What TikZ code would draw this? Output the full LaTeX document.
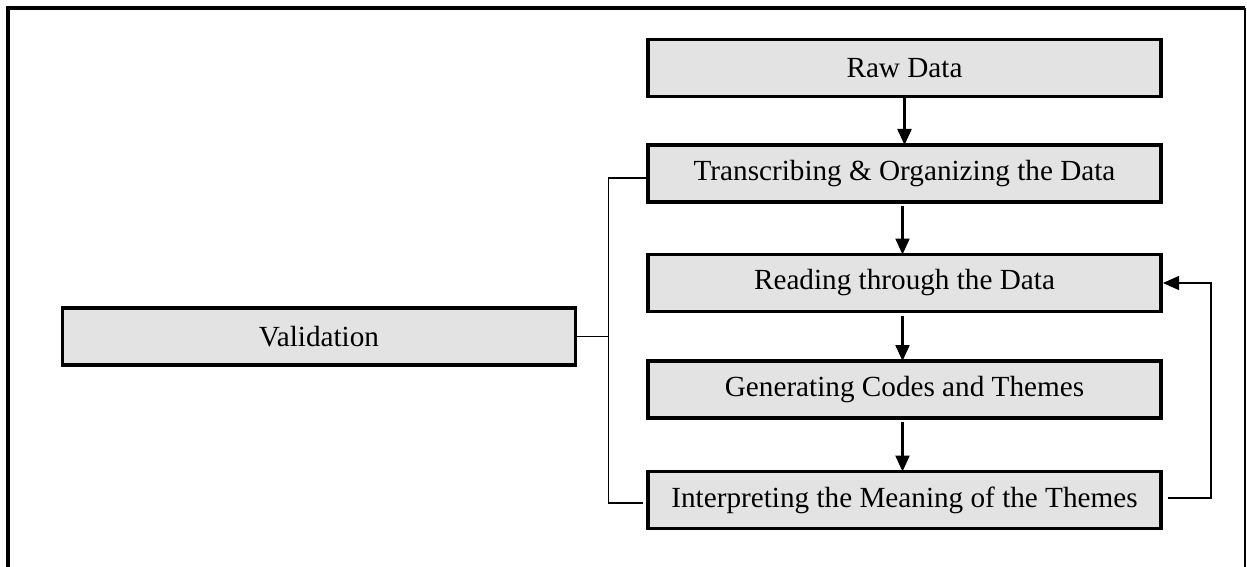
\documentclass[tikz,border=0pt]{standalone}
\usepackage{fontspec}
\setmainfont{Liberation Serif}
\usepackage{tikz}
\usetikzlibrary{positioning, arrows.meta}

\begin{document}
\begin{tikzpicture}[x=0.5pt, y=-0.5pt,
  stage/.style={draw, line width=1.6pt, fill=black!11, minimum width=256.5pt, minimum height=28.5pt, inner sep=0pt, outer sep=0pt, font=\fontsize{14.6}{17}\selectfont},
  flow/.style={line width=1.1pt, -{Triangle[length=8pt,width=7pt]}},
  thin/.style={line width=0.6pt}]
\useasboundingbox (0,0) rectangle (1247,567);

% Outer frame (bottom runs off the page)
\draw[line width=1.7pt] (8,580) -- (8,8) -- (1245,8);
\draw[line width=0.6pt] (1245,8) -- (1245,580);

% Stages
\node[stage] (raw)    at (904.5,68)    {Raw Data};
\node[stage] (trans)  at (904.5,173.5) {Transcribing \& Organizing the Data};
\node[stage] (read)   at (904.5,283)   {Reading through the Data};
\node[stage] (gen)    at (904.5,389.5) {Generating Codes and Themes};
\node[stage] (interp) at (904.5,500)   {Interpreting the Meaning of the Themes};
\node[stage] (valid)  at (319,336.5)   {Validation};

% Main flow
\draw[flow] (raw) -- (trans);
\foreach \a/\b in {trans/read, read/gen, gen/interp}{
  \draw[flow, shorten <=2pt] ([xshift=-1pt]\a.south) -- ([xshift=-1pt]\b.north);
}

% Feedback loop
\draw[thin, -{Triangle[length=8pt,width=7pt]}] ([xshift=3.5pt,yshift=1pt]interp.east) -- ++(21.5pt,0) |- ([xshift=1pt]read.east);

% Validation bracket
\draw[thin] (valid.east) -- ++(16.5pt,0) coordinate (br);
\draw[thin] ([yshift=-2.25pt]trans.west) -| (br) |- ([xshift=-2.5pt,yshift=-1.5pt]interp.west);
\end{tikzpicture}
\end{document}
